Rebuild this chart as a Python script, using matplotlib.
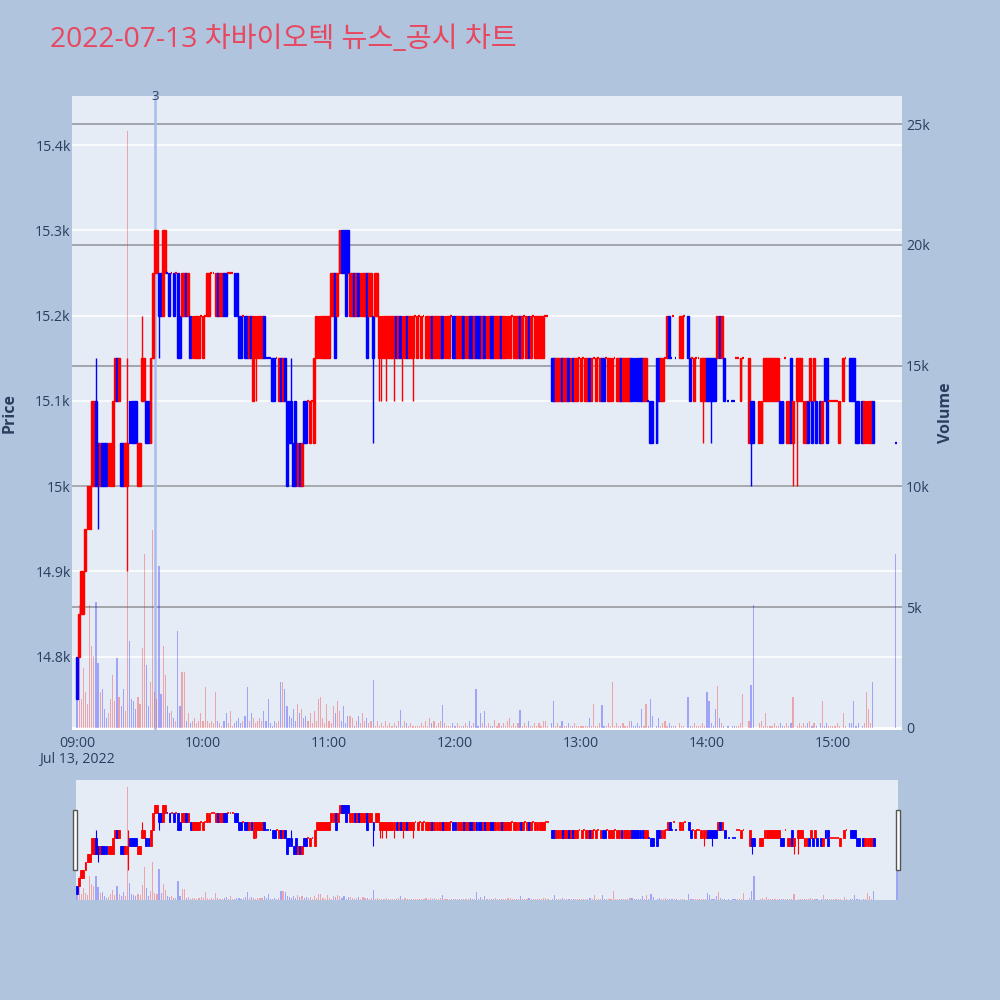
import matplotlib
matplotlib.use("Agg")
import matplotlib.pyplot as plt
from matplotlib.patches import Rectangle
from matplotlib.transforms import blended_transform_factory
import numpy as np

plt.rcParams['font.family'] = ['Open Sans', 'Noto Sans CJK KR', 'DejaVu Sans']

# ---------------- data ----------------
title = "2022-07-13 차바이오텍 뉴스_공시 차트"
price_ticks = [14800, 14900, 15000, 15100, 15200, 15300, 15400]
price_tick_labels = ["14.8k", "14.9k", "15k", "15.1k", "15.2k", "15.3k", "15.4k"]
volume_ticks = [0, 5000, 10000, 15000, 20000, 25000]
volume_tick_labels = ["0", "5k", "10k", "15k", "20k", "25k"]
time_ticks = [0, 60, 120, 180, 240, 300, 360]          # minutes after 09:00
time_tick_labels = ["09:00\nJul 13, 2022", "10:00", "11:00", "12:00", "13:00", "14:00", "15:00"]
news_minutes = [37]
news_labels = ["3"]

N = None
# one entry per minute from 09:00 (index 0) to 15:30 (index 390)
opens = [
    14800, 14800, 14850, 14850, 14900, 14950, 14950, 15000, 15000, 15100,
    15050, 15000, 15050, 15050, 15050, 15000, 15000, 15000, 15100, 15150,
    15100, 15050, 15050, 15000, 15000, 15100, 15100, 15100, 15100, 15000,
    15000, 15100, 15100, 15100, 15100, 15050, 15150, 15250, 15250, 15250,
    15250, 15200, 15250, 15250, 15250, 15250, 15250, 15250, 15250, 15200,
    15200, 15200, 15250, 15200, 15200, 15150, 15150, 15150, 15150, 15200,
    15150, 15200, 15200, 15200, 15250, 15250, 15200, 15250, 15200, 15200,
    15250, 15250, 15250, 15250, 15250, 15250, 15250, 15200, 15200, 15200,
    15200, 15200, 15150, 15200, 15100, 15150, 15150, 15150, 15150, 15200,
    15150, 15150, 15150, 15150, 15150, 15150, 15100, 15150, 15100, 15150,
    15100, 15100, 15100, 15050, 15100, 15000, 15050, 15000, 15100, 15100,
    15100, 15050, 15100, 15050, 15150, 15150, 15150, 15150, 15150, 15150,
    15150, 15200, 15200, 15250, 15200, 15250, 15300, 15300, 15300, 15300,
    15200, 15200, 15250, 15200, 15250, 15200, 15200, 15200, 15250, 15200,
    15200, 15200, 15200, 15200, 15150, 15150, 15150, 15150, 15150, 15150,
    15150, 15150, 15200, 15150, 15200, 15150, 15150, 15200, 15150, 15150,
    15150, 15200, 15150, 15200, 15150, 15200, 15150, 15150, 15150, 15200,
    15150, 15150, 15150, 15150, 15200, 15150, 15150, 15150, 15200, 15200,
    15200, 15150, 15150, 15150, 15200, 15150, 15150, 15200, 15200, 15150,
    15200, 15200, 15200, 15150, 15200, 15150, 15150, 15200, 15200, 15150,
    15150, 15150, 15200, 15150, 15150, 15150, 15150, 15200, 15150, 15150,
    15150, 15200, 15150, 15200, 15150, 15200, 15150, 15200, 15150, 15150,
    15150, 15150, 15150, 15200, 15200, N, 15150, 15150, 15100, 15100,
    15100, 15150, 15100, 15100, 15150, 15100, 15150, 15100, 15100, 15150,
    15100, 15150, 15100, 15100, 15150, 15100, 15150, 15100, 15150, 15100,
    15150, 15150, 15150, 15100, 15100, 15100, 15150, 15100, 15100, 15150,
    15100, 15100, 15100, 15100, 15150, 15150, 15150, 15150, 15150, 15150,
    15100, 15100, 15100, 15100, 15100, N, 15150, 15150, 15100, 15100,
    15150, 15150, 15200, 15150, 15200, 15150, N, 15150, 15150, 15200,
    N, 15200, 15150, 15150, 15100, 15150, 15150, 15100, 15100, 15100,
    15150, 15150, 15150, 15150, 15150, 15150, 15200, 15150, 15150, N,
    15100, N, 15100, 15100, 15150, 15150, 15100, 15150, N, N,
    15050, 15100, 15100, N, N, 15050, 15050, 15100, 15100, 15100,
    15100, 15100, 15100, 15100, 15100, 15100, 15100, 15150, 15050, 15050,
    15150, 15050, N, 15100, 15100, 15100, 15050, 15050, 15100, 15100,
    15100, 15100, 15100, N, 15100, 15050, 15150, 15150, 15100, 15100,
    15100, 15100, 15100, 15050, N, 15100, 15150, N, 15150, 15150,
    15150, 15100, 15100, N, 15100, 15050, 15050, 15050, 15050, 15100,
    N, N, N, N, N, N, N, N, N, N,
    15050,
]
closes = [
    14750, 14850, 14900, 14900, 14950, 15000, 15000, 15100, 15100, 15000,
    15000, 15050, 15000, 15000, 15000, 15050, 15050, 15100, 15150, 15100,
    15150, 15000, 15000, 15050, 15050, 15050, 15050, 15050, 15050, 15050,
    15050, 15150, 15150, 15050, 15050, 15150, 15250, 15300, 15300, 15200,
    15200, 15300, 15300, 15250, 15200, 15250, 15200, 15250, 15150, 15150,
    15250, 15250, 15200, 15250, 15150, 15200, 15200, 15200, 15200, 15200,
    15200, 15200, 15250, 15250, 15250, 15250, 15250, 15200, 15250, 15250,
    15200, 15200, 15250, 15250, 15250, 15200, 15200, 15150, 15150, 15200,
    15150, 15150, 15200, 15150, 15200, 15200, 15200, 15200, 15200, 15150,
    15150, 15150, 15150, 15100, 15100, 15150, 15150, 15100, 15150, 15100,
    15000, 15050, 15050, 15000, 15000, 15050, 15000, 15050, 15050, 15050,
    15100, 15100, 15100, 15150, 15200, 15200, 15200, 15200, 15200, 15200,
    15200, 15250, 15250, 15150, 15250, 15300, 15250, 15250, 15200, 15250,
    15250, 15250, 15200, 15250, 15200, 15250, 15250, 15250, 15150, 15250,
    15250, 15150, 15250, 15250, 15200, 15200, 15200, 15200, 15200, 15200,
    15200, 15200, 15150, 15200, 15150, 15200, 15200, 15150, 15200, 15200,
    15200, 15200, 15200, 15200, 15200, 15200, 15200, 15200, 15200, 15150,
    15200, 15200, 15200, 15200, 15150, 15200, 15200, 15200, 15200, 15150,
    15150, 15200, 15200, 15200, 15150, 15200, 15200, 15150, 15150, 15200,
    15150, 15150, 15150, 15200, 15150, 15200, 15200, 15150, 15150, 15200,
    15200, 15200, 15150, 15200, 15200, 15200, 15200, 15200, 15200, 15200,
    15200, 15150, 15200, 15200, 15200, 15150, 15200, 15200, 15200, 15200,
    15200, 15200, 15200, 15200, 15200, N, 15100, 15100, 15150, 15150,
    15150, 15100, 15150, 15150, 15100, 15150, 15100, 15150, 15150, 15150,
    15150, 15150, 15150, 15150, 15100, 15150, 15150, 15150, 15150, 15150,
    15100, 15100, 15150, 15150, 15150, 15150, 15150, 15150, 15150, 15100,
    15150, 15150, 15150, 15150, 15100, 15100, 15100, 15100, 15100, 15100,
    15150, 15150, 15100, 15050, 15050, N, 15050, 15100, 15150, 15150,
    15150, 15200, 15150, 15150, 15200, 15150, N, 15200, 15200, 15200,
    N, 15150, 15100, 15150, 15150, 15150, 15150, 15150, 15150, 15150,
    15100, 15100, 15100, 15100, 15100, 15200, 15150, 15200, 15100, N,
    15100, N, 15100, 15100, 15150, 15150, 15150, 15150, N, N,
    15150, 15050, 15050, N, N, 15100, 15100, 15150, 15150, 15150,
    15150, 15150, 15150, 15150, 15150, 15050, 15050, 15150, 15100, 15100,
    15050, 15100, N, 15150, 15150, 15150, 15100, 15100, 15050, 15150,
    15050, 15150, 15050, N, 15050, 15100, 15100, 15050, 15100, 15100,
    15100, 15100, 15100, 15100, N, 15150, 15150, N, 15100, 15100,
    15100, 15050, 15050, N, 15050, 15100, 15100, 15100, 15100, 15050,
    N, N, N, N, N, N, N, N, N, N,
    15050,
]
volumes = [
    1200, 5100, 1200, 2500, 1500, 1000, 5100, 3400, 3000, 5200,
    2700, 1500, 1600, 800, 400, 600, 1200, 2200, 1100, 2900,
    1300, 900, 1600, 700, 24700, 3600, 1200, 1100, 800, 1300,
    1000, 3300, 7200, 2600, 900, 1900, 8200, 1500, 1200, 6700,
    1400, 3400, 2200, 900, 600, 700, 400, 300, 4000, 900,
    2300, 2300, 300, 600, 200, 300, 400, 200, 300, 600,
    300, 1700, 300, 200, 300, 200, 1500, 300, 200, 100,
    300, 600, 200, 700, 100, 200, 300, 400, 200, 300,
    500, 1700, 300, 600, 400, 200, 300, 400, 300, 700,
    300, 1200, 200, 100, 300, 200, 300, 1900, 1900, 1600,
    900, 500, 400, 800, 300, 1000, 600, 800, 400, 500,
    300, 600, 200, 700, 300, 1200, 1300, 400, 200, 1000,
    300, 200, 900, 600, 1100, 700, 300, 900, 200, 500,
    500, 400, 100, 300, 500, 200, 600, 300, 400, 200,
    300, 2000, 100, 300, 100, 200, 100, 300, 100, 200,
    100, 200, 100, 300, 750, 100, 300, 200, 100, 200,
    100, 100, 100, 100, 200, 100, 300, 100, 400, 200,
    300, 100, 200, 300, 950, 200, 100, 100, 100, 200,
    100, 200, 100, 100, 100, 200, 100, 300, 100, 200,
    1600, 100, 600, 200, 700, 100, 200, 100, 100, 350,
    100, 200, 100, 200, 100, 300, 400, 100, 200, 100,
    200, 750, 100, 200, 100, 300, 100, 100, 200, 100,
    200, 100, 300, 300, 100, 0, 200, 1100, 100, 200,
    100, 300, 100, 100, 200, 100, 100, 200, 100, 100,
    100, 100, 100, 100, 400, 100, 1000, 100, 100, 200,
    950, 100, 100, 200, 100, 1900, 100, 200, 100, 100,
    200, 100, 100, 300, 300, 100, 100, 200, 100, 800,
    100, 1000, 100, 1200, 500, 0, 100, 400, 100, 200,
    300, 100, 200, 100, 100, 100, 0, 200, 100, 100,
    0, 1300, 100, 100, 200, 100, 100, 100, 200, 100,
    1500, 1100, 200, 100, 800, 1750, 400, 200, 100, 0,
    100, 0, 100, 100, 100, 100, 200, 1400, 0, 0,
    300, 1800, 5100, 0, 0, 200, 300, 100, 600, 100,
    100, 100, 200, 100, 100, 200, 100, 100, 200, 100,
    200, 1300, 0, 100, 200, 100, 200, 100, 200, 300,
    100, 200, 100, 0, 200, 1100, 100, 200, 100, 100,
    100, 100, 200, 100, 0, 600, 100, 0, 200, 200,
    1100, 100, 200, 0, 100, 200, 1500, 800, 200, 1900,
    0, 0, 0, 0, 0, 0, 0, 0, 0, 0,
    7200,
]
wick_minutes = [9, 10, 24, 31, 39, 85, 102, 141, 144, 145, 147, 151, 155, 160, 298, 302, 321, 341, 343]
wick_highs = [15150, 15050, 15150, 15200, 15250, 15200, 15150, 15200, 15200, 15200, 15200, 15200, 15200, 15200,
              15150, 15150, 15100, 15100, 15150]
wick_lows = [15000, 14950, 14900, 15100, 15150, 15100, 15050, 15050, 15100, 15100, 15100, 15100, 15100, 15100,
             15050, 15050, 15000, 15000, 15000]

# ---------------- derived per-candle arrays ----------------
UP, DOWN = '#ff0000', '#0000ff'
n = len(opens)
xs, o_arr, c_arr, h_arr, l_arr, v_arr, cols = [], [], [], [], [], [], []
prev_close, prev_col = None, DOWN
wick_map = {m: (hh, ll) for m, hh, ll in zip(wick_minutes, wick_highs, wick_lows)}
for i in range(n):
    o, c = opens[i], closes[i]
    if o is None or c is None:
        continue
    if c > o:
        col = UP
    elif c < o:
        col = DOWN
    else:
        if prev_close is not None and c > prev_close:
            col = UP
        elif prev_close is not None and c < prev_close:
            col = DOWN
        else:
            col = prev_col
    hi, lo = max(o, c), min(o, c)
    if i in wick_map:
        hi = max(hi, wick_map[i][0])
        lo = min(lo, wick_map[i][1])
    xs.append(i); o_arr.append(o); c_arr.append(c); h_arr.append(hi); l_arr.append(lo)
    v_arr.append(volumes[i]); cols.append(col)
    prev_close, prev_col = c, col
xs = np.array(xs); o_arr = np.array(o_arr); c_arr = np.array(c_arr)
h_arr = np.array(h_arr); l_arr = np.array(l_arr); v_arr = np.array(v_arr)
cols = np.array(cols)

PRICE_LIM = (14713.8, 15457.5)
VOL_LIM = (-83, 26160)
TXT = '#2a3f5f'
BG = '#e5ecf6'
TICK_FS = 10.2


def draw_series(ax_p, ax_v, body_w, vol_w, edge_lw, wick_lw, flat_lw):
    ax_v.bar(xs, v_arr, width=vol_w, color=list(cols), alpha=0.3, linewidth=0, zorder=1)
    ax_p.vlines(xs, l_arr, h_arr, colors=list(cols), linewidth=wick_lw, zorder=2)
    nf = o_arr != c_arr
    bottoms = np.minimum(o_arr, c_arr)[nf]
    heights = np.abs(c_arr - o_arr)[nf]
    ax_p.bar(xs[nf], heights, bottom=bottoms, width=body_w, color=list(cols[nf]),
             edgecolor=list(cols[nf]), linewidth=edge_lw, zorder=3)
    fl = ~nf
    ax_p.hlines(c_arr[fl], xs[fl] - body_w / 2, xs[fl] + body_w / 2, colors=list(cols[fl]),
                linewidth=flat_lw, zorder=3)


fig = plt.figure(figsize=(10, 10), dpi=100, facecolor='#b0c4de')

# ---------------- main chart ----------------
ax_v = fig.add_axes([0.072, 0.270, 0.830, 0.634], facecolor=BG)
ax_p = ax_v.twinx()
ax_v.set_xlim(-2.4, 392.9)
ax_v.set_ylim(*VOL_LIM)
ax_p.set_ylim(*PRICE_LIM)

# gridlines (behind everything)
trans = blended_transform_factory(ax_v.transAxes, ax_p.transData)
for p in price_ticks:
    ax_v.plot([0, 1], [p, p], transform=trans, color='white', lw=1.1, zorder=0.4)
for v in volume_ticks[1:]:
    ax_v.axhline(v, color='#8f9398', lw=1.1, zorder=0.5)
ax_v.axhline(0, color='white', lw=2, zorder=0.5)

draw_series(ax_p, ax_v, body_w=0.9, vol_w=0.55, edge_lw=1.0, wick_lw=1.0, flat_lw=1.6)

# news marker
for m, lab in zip(news_minutes, news_labels):
    ax_v.axvline(m, color='#a9bcef', lw=1.8, zorder=0.9)
    ax_v.text(m, 1.0, lab, transform=blended_transform_factory(ax_v.transData, ax_v.transAxes),
              ha='center', va='center', fontsize=9.5, color=TXT)

for a in (ax_v, ax_p):
    for s in a.spines.values():
        s.set_visible(False)

ax_v.yaxis.tick_right()
ax_v.set_yticks(volume_ticks)
ax_v.set_yticklabels(volume_tick_labels)
ax_v.set_xticks(time_ticks)
ax_v.set_xticklabels(time_tick_labels, linespacing=1.15)
ax_v.tick_params(axis='both', length=0, labelsize=TICK_FS, colors=TXT)
ax_v.tick_params(axis='y', pad=3)
ax_v.tick_params(axis='x', pad=4)

ax_p.yaxis.tick_left()
ax_p.set_yticks(price_ticks)
ax_p.set_yticklabels(price_tick_labels)
ax_p.tick_params(axis='y', length=0, labelsize=TICK_FS, colors=TXT, pad=1)

fig.text(0.010, 0.587, 'Price', rotation=90, ha='center', va='center',
         fontsize=11.5, fontweight='bold', color=TXT)
fig.text(0.946, 0.587, 'Volume', rotation=90, ha='center', va='center',
         fontsize=11.5, fontweight='bold', color=TXT)

fig.text(0.050, 0.960, title, ha='left', va='center', fontsize=20.3, color='#e8475f')

# ---------------- range slider ----------------
ax_sv = fig.add_axes([0.076, 0.100, 0.822, 0.120], facecolor=BG)
ax_sp = ax_sv.twinx()
ax_sv.set_xlim(-0.5, 390.5)
ax_sv.set_ylim(*VOL_LIM)
ax_sp.set_ylim(*PRICE_LIM)
draw_series(ax_sp, ax_sv, body_w=0.9, vol_w=0.55, edge_lw=0.6, wick_lw=0.8, flat_lw=1.2)
for a in (ax_sv, ax_sp):
    a.set_xticks([]); a.set_yticks([])
    for s in a.spines.values():
        s.set_visible(False)

for x0 in (0.0725, 0.8955):
    fig.patches.append(Rectangle((x0, 0.130), 0.0045, 0.060, transform=fig.transFigure,
                                 facecolor='white', edgecolor='#555555', lw=1.0, zorder=5))

fig.savefig('out.png', dpi=100, facecolor=fig.get_facecolor())
